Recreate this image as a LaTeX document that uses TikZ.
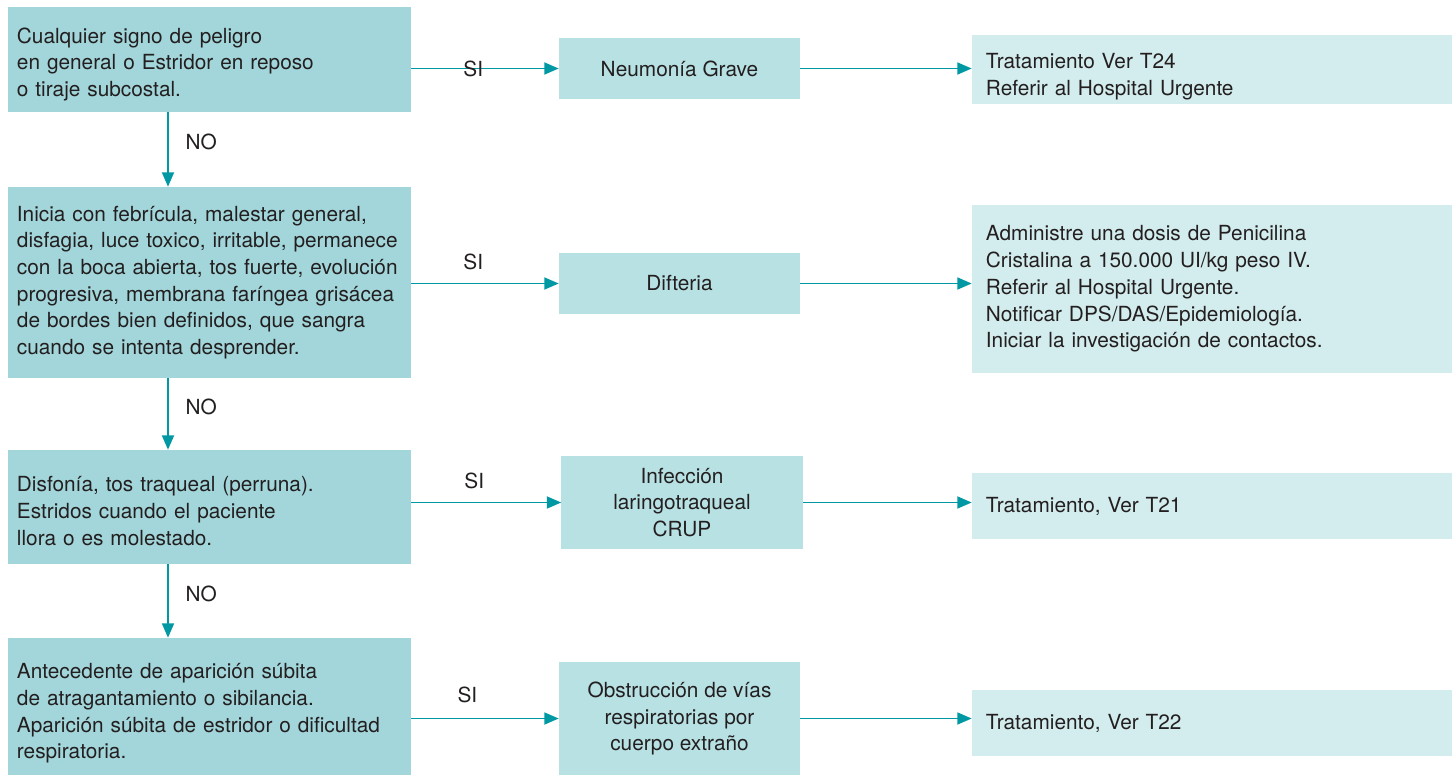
\documentclass[tikz,border=0pt]{standalone}
\usepackage{fontspec}
\setmainfont{TeX Gyre Heros}
\usetikzlibrary{arrows.meta}
\definecolor{cajaA}{HTML}{A2D6DA}
\definecolor{cajaB}{HTML}{B8E1E4}
\definecolor{cajaC}{HTML}{D3ECED}
\definecolor{lineaT}{HTML}{0098A3}
\definecolor{texto}{HTML}{231F20}
\tikzset{
  caja/.style={rectangle, text=texto, font=\fontsize{14.8pt}{19pt}\selectfont},
  pregunta/.style={caja, fill=cajaA, minimum width=10.075cm, inner xsep=0.225cm, text width=9.625cm, align=left},
  clasif/.style={caja, fill=cajaB, minimum width=6.025cm, align=center},
  tratam/.style={caja, fill=cajaC, minimum width=12cm, inner xsep=0.35cm, text width=11.3cm, align=left},
  bajar/.style={execute at begin node={\rule{0pt}{\dimexpr 10.7pt+#1\relax}}},
  flecha/.style={draw=lineaT, line width=1.3pt, -{Triangle[length=0.36cm,width=0.3cm]}},
  rotulo/.style={text=texto, font=\fontsize{14.8pt}{16pt}\selectfont}
}
\begin{document}
\begin{tikzpicture}[x=0.025cm,y=-0.025cm]
  \useasboundingbox (0,0) rectangle (1452,776);
  \coordinate (eje) at (168,0);

  \node[pregunta, bajar=0.25cm, minimum height=2.625cm] (P1) at (209.5,59.5) {Cualquier signo de peligro\\en general o Estridor en reposo\\o tiraje subcostal.};
  \node[pregunta, minimum height=4.775cm] (P2) at (209.5,282.5) {Inicia con febrícula, malestar general,\\disfagia, luce toxico, irritable, permanece\\con la boca abierta, tos fuerte, evolución\\progresiva, membrana faríngea grisácea\\de bordes bien definidos, que sangra\\cuando se intenta desprender.};
  \node[pregunta, bajar=0.2cm, minimum height=2.85cm] (P3) at (209.5,507) {Disfonía, tos traqueal (perruna).\\Estridos cuando el paciente\\llora o es molestado.};
  \node[pregunta, bajar=0.35cm, minimum height=3.425cm] (P4) at (209.5,706.5) {Antecedente de aparición súbita\\de atragantamiento o sibilancia.\\Aparición súbita de estridor o dificultad\\respiratoria.};

  \node[clasif, minimum height=1.525cm] (C1) at (679.5,68.5) {Neumonía Grave};
  \node[clasif, minimum height=1.525cm] (C2) at (679.5,283.5) {Difteria};
  \node[clasif, minimum height=2.325cm] (C3) at (682,502.5) {Infección\\laringotraqueal\\CRUP};
  \node[clasif, minimum height=2.825cm] (C4) at (679.5,718.5) {Obstrucción de vías\\respiratorias por\\cuerpo extraño};

  \node[tratam, bajar=0.35cm, minimum height=1.675cm] (T1) at (1212,69.5) {Tratamiento Ver T24\\Referir al Hospital Urgente};
  \node[tratam, minimum height=4.2cm] (T2) at (1212,289) {Administre una dosis de Penicilina\\Cristalina a 150.000 UI/kg peso IV.\\Referir al Hospital Urgente.\\Notificar DPS/DAS/Epidemiología.\\Iniciar la investigación de contactos.};
  \node[tratam, minimum height=1.65cm] (T3) at (1212,506) {Tratamiento, Ver T21};
  \node[tratam, minimum height=1.65cm] (T4) at (1212,723) {Tratamiento, Ver T22};

  \draw[flecha] (P1.east |- C1.west) -- node[rotulo, pos=0.42] (s1) {SI} (C1.west);
  \draw[flecha] (P2.east |- C2.west) -- node[rotulo, pos=0.42, above=0.2cm] (s2) {SI} (C2.west);
  \draw[flecha] (P3.east |- C3.west) -- node[rotulo, pos=0.42, above=0.2cm] (s3) {SI} (C3.west);
  \draw[flecha] (P4.east |- C4.west) -- node[rotulo, pos=0.38, above=0.25cm] (s4) {SI} (C4.west);

  \draw[flecha] (C1.east) -- (C1.east -| T1.west);
  \draw[flecha] (C2.east) -- (C2.east -| T2.west);
  \draw[flecha] (C3.east) -- (C3.east -| T3.west);
  \draw[flecha] (C4.east) -- (C4.east -| T4.west);

  \draw[flecha] (P1.south -| eje) -- node[rotulo, pos=0.4, right=0.3cm] (n1) {NO} (P2.north -| eje);
  \draw[flecha] (P2.south -| eje) -- node[rotulo, pos=0.4, right=0.3cm] (n2) {NO} (P3.north -| eje);
  \draw[flecha] (P3.south -| eje) -- node[rotulo, pos=0.4, right=0.3cm] (n3) {NO} (P4.north -| eje);
\end{tikzpicture}
\end{document}
